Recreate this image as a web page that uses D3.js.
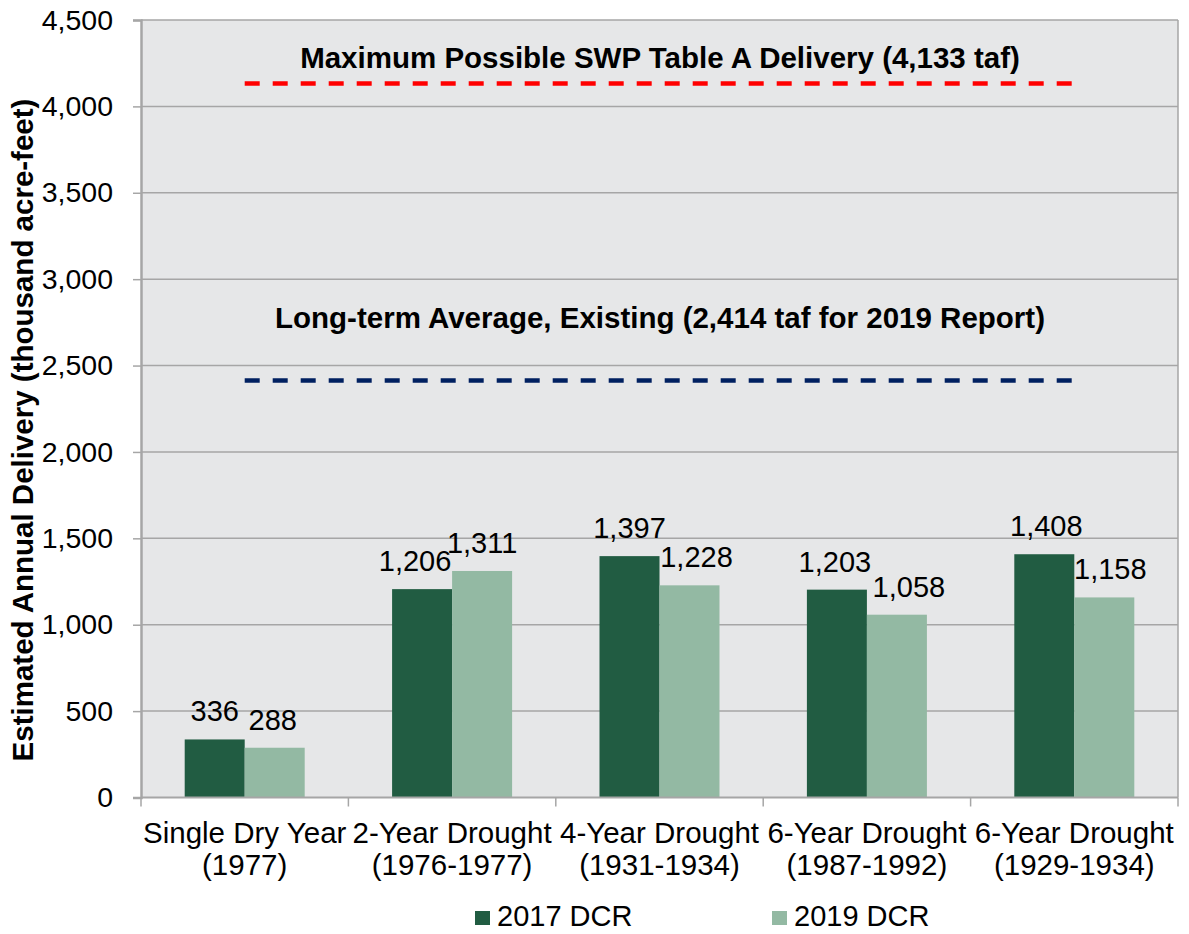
<!DOCTYPE html>
<html>
<head>
<meta charset="utf-8">
<script src="https://cdn.jsdelivr.net/npm/d3@7"></script>
<style>
  body { margin: 0; background: #ffffff; }
  svg { display: block; font-family: "Liberation Sans", Arial, sans-serif; }
</style>
</head>
<body>
<svg id="chart" width="1189" height="934"></svg>
<script>
const categories = [
  ["Single Dry Year", "(1977)"],
  ["2-Year Drought", "(1976-1977)"],
  ["4-Year Drought", "(1931-1934)"],
  ["6-Year Drought", "(1987-1992)"],
  ["6-Year Drought", "(1929-1934)"]
];
const seriesNames = ["2017 DCR", "2019 DCR"];
const values2017 = [336, 1206, 1397, 1203, 1408];
const values2019 = [288, 1311, 1228, 1058, 1158];
const yTicks = [0, 500, 1000, 1500, 2000, 2500, 3000, 3500, 4000, 4500];
const refValues = [4133, 2414];
const refLabels = [
  "Maximum Possible SWP Table A Delivery (4,133 taf)",
  "Long-term Average, Existing (2,414 taf for 2019 Report)"
];
const seriesColors = ["#215c42", "#93b9a3"];
const refColors = ["#ff0000", "#002060"];

const svg = d3.select("#chart");
const plot = { left: 141, right: 1178, top: 20, bottom: 797.5 };

const y = d3.scaleLinear().domain([0, 4500]).range([plot.bottom, plot.top]);
const x = d3.scaleBand().domain(d3.range(categories.length))
  .range([plot.left, plot.right]).paddingInner(0.4214).paddingOuter(0.2107);
const xs = d3.scaleBand().domain([0, 1]).range([0, x.bandwidth()]);

// plot background
svg.append("rect")
  .attr("x", plot.left).attr("y", plot.top)
  .attr("width", plot.right - plot.left).attr("height", plot.bottom - plot.top)
  .attr("fill", "#e6e7e8");

// gridlines
svg.append("g").selectAll("line").data(yTicks.filter(d => d > 0)).join("line")
  .attr("x1", plot.left).attr("x2", plot.right)
  .attr("y1", d => y(d)).attr("y2", d => y(d))
  .attr("stroke", "#a6a6a6").attr("stroke-width", 1.5);

// right border
svg.append("line").attr("x1", plot.right).attr("x2", plot.right)
  .attr("y1", plot.top).attr("y2", plot.bottom)
  .attr("stroke", "#a6a6a6").attr("stroke-width", 1.5);

// bars
const series = [values2017, values2019];
series.forEach((vals, si) => {
  svg.append("g").selectAll("rect").data(vals).join("rect")
    .attr("x", (d, i) => x(i) + xs(si))
    .attr("width", xs.bandwidth())
    .attr("y", d => y(d))
    .attr("height", d => y(0) - y(d))
    .attr("fill", seriesColors[si]);
});

// bar labels (small horizontal nudges as in the original to avoid overlaps)
const labelNudge = [[0, -7, 0, -2, 2], [-2, 0, 7, 12, 6]];
series.forEach((vals, si) => {
  svg.append("g").selectAll("text").data(vals).join("text")
    .attr("x", (d, i) => x(i) + xs(si) + xs.bandwidth() / 2 + labelNudge[si][i])
    .attr("y", d => y(d) - 18)
    .attr("text-anchor", "middle")
    .attr("font-size", 29)
    .attr("fill", "#000")
    .text(d => d3.format(",")(d));
});

// reference lines
refValues.forEach((v, i) => {
  svg.append("line")
    .attr("x1", x(0) + x.bandwidth() / 2)
    .attr("x2", x(categories.length - 1) + x.bandwidth() / 2)
    .attr("y1", y(v)).attr("y2", y(v))
    .attr("stroke", refColors[i]).attr("stroke-width", 4.5)
    .attr("stroke-dasharray", "15,13");
});
const refLabelY = [68, 328];
refLabels.forEach((t, i) => {
  svg.append("text").attr("x", 660).attr("y", refLabelY[i])
    .attr("text-anchor", "middle").attr("font-size", 29.5).attr("font-weight", "bold")
    .text(t);
});

// y axis
const yAxis = d3.axisLeft(y).tickValues(yTicks).tickSize(8).tickPadding(20)
  .tickFormat(d3.format(","));
const gy = svg.append("g").attr("transform", `translate(${plot.left},0)`).call(yAxis);
gy.select(".domain").attr("stroke", "#a6a6a6").attr("stroke-width", 2.5);
gy.selectAll(".tick line").attr("stroke", "#a6a6a6").attr("stroke-width", 1.5);
gy.selectAll(".tick text").attr("font-size", 28.5).attr("fill", "#000")
  .attr("font-family", "Liberation Sans, Arial, sans-serif");

// x axis baseline and ticks
svg.append("line").attr("x1", plot.left).attr("x2", plot.right)
  .attr("y1", plot.bottom).attr("y2", plot.bottom)
  .attr("stroke", "#a6a6a6").attr("stroke-width", 2);
const boundaries = d3.range(categories.length + 1).map(i => plot.left + i * x.step());
svg.append("g").selectAll("line").data(boundaries).join("line")
  .attr("x1", d => d).attr("x2", d => d)
  .attr("y1", plot.bottom).attr("y2", plot.bottom + 9)
  .attr("stroke", "#a6a6a6").attr("stroke-width", 1.5);

// category labels
const cl = svg.append("g").selectAll("text").data(categories).join("text")
  .attr("text-anchor", "middle").attr("font-size", 29.5).attr("fill", "#000");
cl.append("tspan").attr("x", (d, i) => x(i) + x.bandwidth() / 2).attr("y", 843).text(d => d[0]);
cl.append("tspan").attr("x", (d, i) => x(i) + x.bandwidth() / 2).attr("y", 875).text(d => d[1]);

// y axis title
svg.append("text")
  .attr("transform", `translate(33,430) rotate(-90)`)
  .attr("text-anchor", "middle").attr("font-size", 29.5).attr("font-weight", "bold")
  .text("Estimated Annual Delivery (thousand acre-feet)");

// legend
const legendX = [475, 772];
seriesNames.forEach((n, i) => {
  svg.append("rect").attr("x", legendX[i]).attr("y", 911).attr("width", 15).attr("height", 14)
    .attr("fill", seriesColors[i]);
  svg.append("text").attr("x", legendX[i] + 22).attr("y", 926)
    .attr("font-size", 29).attr("fill", "#000").text(n);
});
</script>
</body>
</html>
